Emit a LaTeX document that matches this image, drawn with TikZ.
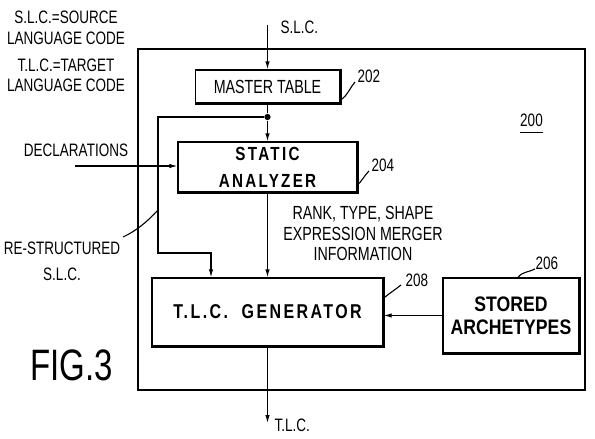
\documentclass[tikz,border=0pt]{standalone}
\usepackage{fontspec}
\setmainfont[FakeStretch=0.75]{Liberation Sans}
\newfontfamily\blockfont[FakeStretch=0.8,LetterSpace=12]{Liberation Sans}
\newfontfamily\archfont[FakeStretch=0.84]{Liberation Sans}
\usetikzlibrary{arrows.meta, calc}

\begin{document}
\begin{tikzpicture}[
    x=1pt, y=-1pt, % pixel units, y pointing down
    >={Latex[length=8pt,width=4.5pt]}, % Set default arrow tip style
    line width=1.1pt,
    block/.style={draw, line width=1.4pt, inner sep=0pt, align=center,
                  font=\fontsize{19}{21}\selectfont},
    shadow/.style={line width=2.8pt, line join=miter},
    lbl/.style={align=center, inner sep=0pt, font=\fontsize{18}{20.5}\selectfont},
    num/.style={anchor=west, inner sep=0pt, font=\fontsize{18}{20}\selectfont},
    dot/.style={fill=black, circle, inner sep=2.2pt} % Style for the branch point
]
\useasboundingbox (0,0) rectangle (595,439);

% Legend
\node[lbl] (key1) at (66,28) {S.L.C.=SOURCE\\LANGUAGE CODE};
\node[lbl] (key2) at (66,75.5) {T.L.C.=TARGET\\LANGUAGE CODE};

% Frame of 200
\draw (138,49) rectangle (585,390);
\node[lbl] (n200) at (531.5,120) {200};
\draw ($(n200.south west)+(0,6)$) -- ($(n200.south east)+(0,6)$);

% Blocks
\node[block, minimum width=144, minimum height=33] (master) at (267.5,86.5) {MASTER TABLE};
\node[block, minimum width=179, minimum height=50,
      font=\blockfont\bfseries\fontsize{19}{27}\selectfont] (static) at (267.5,167) {STATIC\\ANALYZER};
\node[block, minimum width=231, minimum height=68,
      font=\blockfont\bfseries\fontsize{20}{22}\selectfont] (tlc) at (267.5,312) {T.L.C.\ \ GENERATOR};
\node[block, minimum width=136, minimum height=75,
      font=\archfont\bfseries\fontsize{21}{23}\selectfont] (arch) at (511,315.5) {STORED\\ARCHETYPES};

% Heavy right and bottom edges
\foreach \b in {master, static, tlc, arch}
    \draw[shadow] (\b.north east) -- (\b.south east) -- (\b.south west);

% Reference numerals
\node[num] (n202) at (357,76) {202};
\node[num] (n204) at (371,165) {204};
\node[num] (n208) at (405,280) {208};
\node[num] (n206) at (535,263) {206};
\draw ($(master.south east)+(1,-4)$) .. controls +(6,-4) and +(-5,6) .. ($(n202.south west)+(-2,-1)$);
\draw ($(static.south east)+(-1,-7)$) .. controls +(5,-4) and +(-5,5) .. ($(n204.south west)+(-2,-1)$);
\draw ($(tlc.north east)+(1,20)$) .. controls +(6,-5) and +(-6,5) .. ($(n208.south west)+(-4,-2)$);
\draw ($(arch.north)+(7,0)$) .. controls +(5,-6) and +(-8,4) .. ($(n206.south west)+(0,-1)$);

% Source code in
\node[lbl, anchor=west] (slcin) at (280,27) {S.L.C.};
\coordinate (slctop) at (267.5,25);
\draw[->] (slctop) -- (master.north);

% Branch for the re-structured code
\node[dot] (split) at (267.5,117) {};
\draw (master.south) -- (split);
\draw[->] (split) -- (static.north);
\coordinate (rsa) at (158,117);
\coordinate (rsb) at (158,253);
\coordinate (rsc) at (211,253);
\draw[->] (split) -- (rsa) -- (rsb) -- (rsc) -- (rsc |- tlc.north);
\node[lbl, font=\fontsize{18}{26}\selectfont] (restr) at (62,261) {RE-STRUCTURED\\S.L.C.};
\draw (123,237) .. controls (136,231) and (147,222) .. (rsa |- 0,210);

% Declarations
\node[lbl] (decl) at (76,150) {DECLARATIONS};
\coordinate (declin) at (75,166);
\draw[->] (declin) -- (declin -| static.west);

% Analyzer output
\draw[->] (static.south) -- (tlc.north);
\node[lbl, font=\fontsize{19}{20.5}\selectfont] (info) at (363,233.5) {RANK, TYPE, SHAPE\\EXPRESSION MERGER\\INFORMATION};

% Archetypes into the generator
\draw[->] (arch.west) -- (arch.west -| tlc.east);

% Target code out
\coordinate (tlcout) at (267.5,423);
\draw[->] (tlc.south) -- (tlcout);
\node[lbl, anchor=west] (slcout) at (274,425) {T.L.C.};

\node[font=\fontsize{44}{44}\selectfont, inner sep=0pt] (fig) at (71.5,365.5) {FIG.3};

\end{tikzpicture}
\end{document}
